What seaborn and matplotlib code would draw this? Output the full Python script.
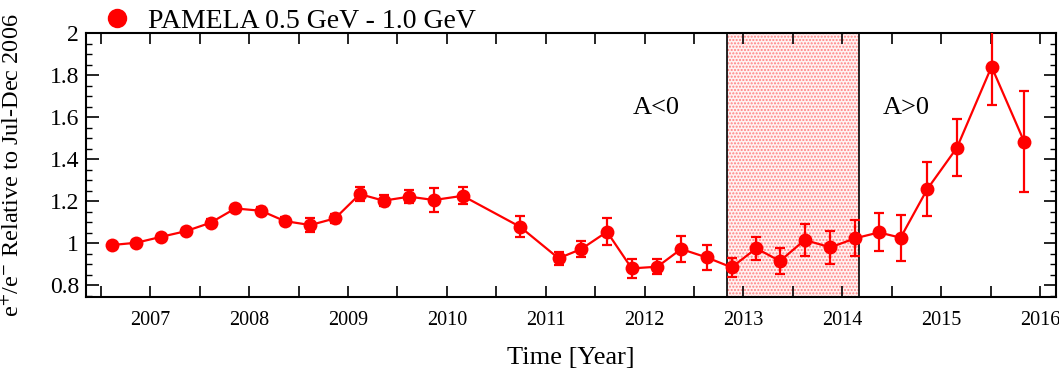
import matplotlib
matplotlib.use("Agg")
import matplotlib.pyplot as plt
from matplotlib.lines import Line2D
from matplotlib.ticker import MultipleLocator, FixedLocator
import seaborn as sns
import pandas as pd

# ---- data ----
time_year = [2006.61, 2006.86, 2007.11, 2007.36, 2007.61, 2007.86, 2008.12, 2008.36,
             2008.62, 2008.87, 2009.12, 2009.36, 2009.62, 2009.87, 2010.16, 2010.74,
             2011.13, 2011.36, 2011.62, 2011.87, 2012.13, 2012.37, 2012.63, 2012.88,
             2013.13, 2013.37, 2013.62, 2013.88, 2014.13, 2014.37, 2014.59, 2014.86,
             2015.16, 2015.51, 2015.84]
ratio = [0.992, 1.003, 1.031, 1.058, 1.098, 1.166, 1.155, 1.106,
         1.087, 1.119, 1.234, 1.203, 1.222, 1.206, 1.226, 1.079,
         0.929, 0.973, 1.055, 0.881, 0.889, 0.973, 0.933, 0.886,
         0.976, 0.916, 1.016, 0.981, 1.024, 1.052, 1.027, 1.258,
         1.455, 1.840, 1.483]
ratio_err = [0.012, 0.012, 0.014, 0.015, 0.016, 0.018, 0.018, 0.02,
             0.035, 0.022, 0.035, 0.025, 0.03, 0.055, 0.04, 0.05,
             0.03, 0.04, 0.065, 0.045, 0.035, 0.06, 0.06, 0.045,
             0.055, 0.06, 0.075, 0.08, 0.085, 0.09, 0.11, 0.13,
             0.135, 0.18, 0.24]
shade_start, shade_end = 2012.835, 2014.17
legend_label = "PAMELA 0.5 GeV - 1.0 GeV"
xtick_years = [2007, 2008, 2009, 2010, 2011, 2012, 2013, 2014, 2015, 2016]

df = pd.DataFrame({"time": time_year, "ratio": ratio, "err": ratio_err})

sns.set_theme(style="ticks")
plt.rcParams["font.family"] = ["Liberation Serif", "DejaVu Serif"]
plt.rcParams["mathtext.fontset"] = "stix"
for k in ("text.color", "axes.labelcolor", "xtick.color", "ytick.color",
          "xtick.labelcolor", "ytick.labelcolor"):
    plt.rcParams[k] = "black"

fig = plt.figure(figsize=(10.59, 3.72), dpi=100)
ax = fig.add_axes([0.0812, 0.2016, 0.9158, 0.7097])

# shaded region
ax.axvspan(shade_start, shade_end, facecolor=(1, 0.95, 0.95), edgecolor=(1, 0.5, 0.5),
           hatch=".....", linewidth=0, zorder=0)
ax.axvline(shade_start, color="black", lw=1.2, zorder=1)
ax.axvline(shade_end, color="black", lw=1.2, zorder=1)

ax.errorbar(df["time"], df["ratio"], yerr=df["err"], fmt="none", ecolor="red",
            elinewidth=1.6, capsize=3.5, capthick=1.6, zorder=3)
sns.lineplot(data=df, x="time", y="ratio", ax=ax, color="red", marker="o",
             markersize=10, markeredgewidth=0, linewidth=1.6, zorder=4,
             estimator=None, sort=False)

ax.set_xlim(2006.35, 2016.16)
ax.set_ylim(0.745, 2.0)

ax.xaxis.set_major_locator(FixedLocator([y + h for y in range(2006, 2017) for h in (0.0, 0.5)
                                         if 2006.35 <= y + h <= 2016.16]))
locs = ax.get_xticks()
ax.set_xticklabels([str(int(round(v))) if abs(v - round(v)) < 1e-6 and int(round(v)) in xtick_years else ""
                    for v in locs])
ax.yaxis.set_minor_locator(MultipleLocator(0.05))
ax.set_yticks([0.8, 1.0, 1.2, 1.4, 1.6, 1.8, 2.0])
ax.set_yticklabels(["0.8", "1", "1.2", "1.4", "1.6", "1.8", "2"])

ax.tick_params(axis="both", which="both", direction="in", top=True, right=True,
               color="black", labelcolor="black")
ax.tick_params(axis="x", which="major", length=8, width=1.2, labelsize=14.5, pad=10)
ax.tick_params(axis="y", which="major", length=9, width=1.2, labelsize=17, pad=5)
ax.tick_params(axis="y", which="minor", length=4, width=1.0)
for s in ax.spines.values():
    s.set_visible(True)
    s.set_linewidth(1.5)
    s.set_color("black")

ax.set_xlabel("Time [Year]", fontsize=19, labelpad=12, color="black")
ax.set_ylabel(r"e$^{+}$/e$^{-}$ Relative to Jul-Dec 2006", fontsize=17.5, color="black")
ax.yaxis.set_label_coords(-0.064, 0.5)

ax.text(2011.88, 1.643, "A<0", fontsize=19, va="center", ha="left", color="black")
ax.text(2014.41, 1.643, "A>0", fontsize=19, va="center", ha="left", color="black")

handle = Line2D([], [], marker="o", color="red", ls="none", markersize=14, markeredgewidth=0)
leg = ax.legend([handle], [legend_label], loc="lower left", bbox_to_anchor=(0.015, 0.985),
                frameon=False, fontsize=20, handletextpad=0.6, borderaxespad=0.0,
                borderpad=0.1, handlelength=1.0)
for t in leg.get_texts():
    t.set_color("black")

fig.savefig("out.png", dpi=100)
